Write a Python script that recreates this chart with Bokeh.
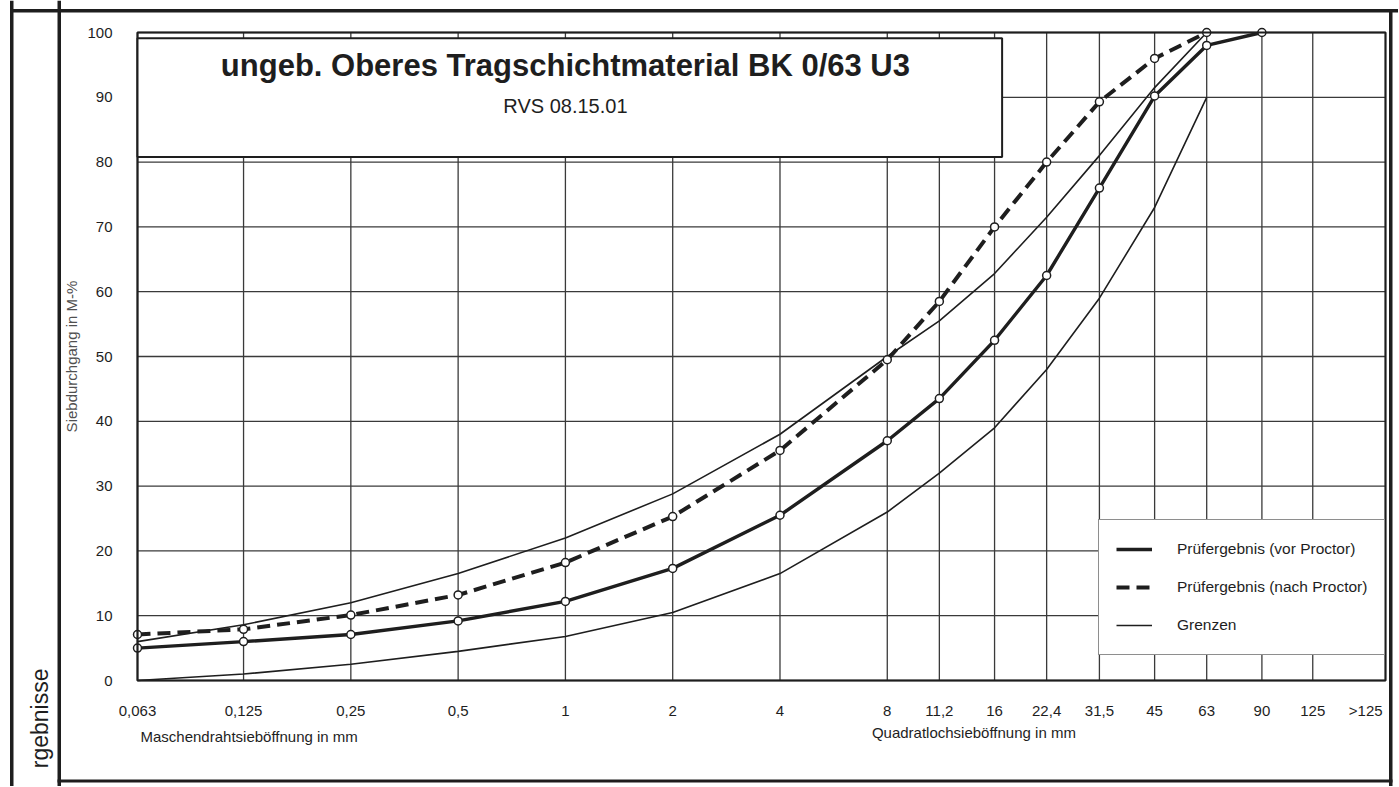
from math import pi, log2
from bokeh.plotting import figure
from bokeh.models import Range1d, FixedTicker, Legend, LegendItem, Label, BoxAnnotation
from bokeh.embed import file_html
from bokeh.resources import INLINE

# ---------------- data ----------------
sieve_sizes = [0.063, 0.125, 0.25, 0.5, 1, 2, 4, 8, 11.2, 16, 22.4, 31.5, 45, 63, 90, 125]
sieve_labels = ["0,063", "0,125", "0,25", "0,5", "1", "2", "4", "8", "11,2", "16",
                "22,4", "31,5", "45", "63", "90", "125"]
oversize_tick = 176
oversize_label = ">125"
y_ticks = [0, 10, 20, 30, 40, 50, 60, 70, 80, 90, 100]

vor_sizes = [0.063, 0.125, 0.25, 0.5, 1, 2, 4, 8, 11.2, 16, 22.4, 31.5, 45, 63, 90]
vor_values = [5.0, 6.0, 7.1, 9.2, 12.2, 17.3, 25.5, 37.0, 43.5, 52.5, 62.5, 76.0, 90.2, 98.0, 100.0]

nach_sizes = [0.063, 0.125, 0.25, 0.5, 1, 2, 4, 8, 11.2, 16, 22.4, 31.5, 45, 63]
nach_values = [7.1, 7.9, 10.1, 13.2, 18.2, 25.3, 35.5, 49.5, 58.5, 70.0, 80.0, 89.3, 96.0, 100.0]

limit_sizes = [0.063, 0.125, 0.25, 0.5, 1, 2, 4, 8, 11.2, 16, 22.4, 31.5, 45, 63]
upper_limit = [6.0, 8.6, 12.0, 16.5, 22.0, 28.8, 38.0, 50.0, 55.5, 62.8, 71.5, 81.0, 91.5, 100.0]
lower_limit = [0.0, 1.0, 2.5, 4.5, 6.8, 10.5, 16.5, 26.0, 32.0, 39.0, 48.0, 59.0, 73.0, 90.0]

title_text = "ungeb. Oberes Tragschichtmaterial BK 0/63 U3"
subtitle_text = "RVS 08.15.01"
legend_labels = ["Prüfergebnis (vor Proctor)", "Prüfergebnis (nach Proctor)", "Grenzen"]
x_caption_left = "Maschendrahtsieböffnung in mm"
x_caption_right = "Quadratlochsieböffnung in mm"
y_caption = "Siebdurchgang in M-%"
side_caption = "rgebnisse"

# ---------------- layout / style ----------------
INK = "#1e1e1e"
GRID = "#3a3a3a"
FONT = "Liberation Sans"
W, H = 1398, 786

X_MIN, X_MAX = 0.063, 200.0      # plotted sieve range
Y_MIN, Y_MAX = 0.0, 100.0
PX_L, PX_R = 137.0, 1385.0       # canvas pixels of the diagram area
PX_T, PX_B = 32.0, 680.0
SX = (PX_R - PX_L) / log2(X_MAX / X_MIN)   # pixels per doubling
SY = (PX_B - PX_T) / (Y_MAX - Y_MIN)       # pixels per percent


def px_x(px):
    return X_MIN * 2 ** ((px - PX_L) / SX)


def px_y(py):
    return Y_MIN + (PX_B - py) / SY


p = figure(width=W, height=H, title=None, x_axis_type="log",
           x_range=Range1d(px_x(0), px_x(W)), y_range=Range1d(px_y(H), px_y(0)),
           output_backend="svg", toolbar_location=None,
           min_border=0, background_fill_color="white", border_fill_color="white",
           outline_line_color=None)
p.xgrid.visible = False
p.ygrid.visible = False

# grid lines of the diagram
p.segment(x0=sieve_sizes, y0=[y_ticks[0]] * len(sieve_sizes),
          x1=sieve_sizes, y1=[y_ticks[-1]] * len(sieve_sizes),
          line_color=GRID, line_width=1.3)
p.segment(x0=[X_MIN] * len(y_ticks), y0=y_ticks, x1=[X_MAX] * len(y_ticks), y1=y_ticks,
          line_color=GRID, line_width=1.3)

# axes placed at the diagram edges
xa = p.xaxis[0]
xa.fixed_location = Y_MIN
xa.bounds = (X_MIN, X_MAX)
xa.ticker = FixedTicker(ticks=sieve_sizes + [oversize_tick])
overrides = {s: l for s, l in zip(sieve_sizes, sieve_labels)}
overrides[oversize_tick] = oversize_label
xa.major_label_overrides = overrides
ya = p.yaxis[0]
ya.fixed_location = X_MIN
ya.bounds = (Y_MIN, Y_MAX)
ya.ticker = FixedTicker(ticks=y_ticks)
for ax in (xa, ya):
    ax.axis_line_color = None
    ax.major_tick_line_color = None
    ax.minor_tick_line_color = None
    ax.major_tick_out = 0
    ax.major_tick_in = 0
    ax.major_label_text_font = FONT
    ax.major_label_text_font_size = "15px"
    ax.major_label_text_color = INK
xa.major_label_standoff = 21
ya.major_label_standoff = 25
ya.axis_label = y_caption
ya.axis_label_text_font = FONT
ya.axis_label_text_font_size = "15px"
ya.axis_label_text_font_style = "normal"
ya.axis_label_text_color = "#505050"
ya.axis_label_standoff = 4

# data curves
up_line = p.line(limit_sizes, upper_limit, line_color=INK, line_width=1.6)
p.line(limit_sizes, lower_limit, line_color=INK, line_width=1.6)
vor_line = p.line(vor_sizes, vor_values, line_color=INK, line_width=3.4)
nach_line = p.line(nach_sizes, nach_values, line_color=INK, line_width=4, line_dash="13 7")
p.scatter(vor_sizes, vor_values, marker="circle", size=8, fill_color="white",
          line_color=INK, line_width=1.5)
p.scatter(nach_sizes, nach_values, marker="circle", size=8, fill_color="white",
          line_color=INK, line_width=1.5)

# diagram outline
p.add_layout(BoxAnnotation(left=X_MIN, right=X_MAX, bottom=Y_MIN, top=Y_MAX,
                           fill_alpha=0.0, line_color=INK, line_alpha=1.0, line_width=2.2))

# title box
p.add_layout(BoxAnnotation(left=X_MIN, right=16.8, bottom=80.8, top=99.1,
                           fill_color="white", fill_alpha=1.0,
                           line_color=INK, line_alpha=1.0, line_width=2))
p.add_layout(Label(x=1, y=94.9, text=title_text, text_align="center", text_baseline="middle",
                   text_font=FONT, text_font_size="31px", text_font_style="bold", text_color=INK))
p.add_layout(Label(x=1, y=88.6, text=subtitle_text, text_align="center", text_baseline="middle",
                   text_font=FONT, text_font_size="20px", text_color=INK))

# x axis captions
p.add_layout(Label(x=X_MIN, y=-8.6, x_offset=3, text=x_caption_left, text_align="left",
                   text_baseline="middle", text_font=FONT, text_font_size="15px",
                   text_color=INK))
p.add_layout(Label(x=14, y=-8.1, text=x_caption_right, text_align="center",
                   text_baseline="middle", text_font=FONT, text_font_size="15px",
                   text_color=INK))

# legend
legend = Legend(items=[LegendItem(label=legend_labels[0], renderers=[vor_line]),
                       LegendItem(label=legend_labels[1], renderers=[nach_line]),
                       LegendItem(label=legend_labels[2], renderers=[up_line])],
                location=(1098, H - 655), margin=0, padding=17, spacing=14,
                glyph_width=36, glyph_height=24, label_height=24, label_width=190,
                label_standoff=25,
                label_text_font=FONT, label_text_font_size="15.5px", label_text_color=INK,
                border_line_color=INK, border_line_width=1.8,
                background_fill_color="white", background_fill_alpha=1.0)
p.add_layout(legend)


# page frame lines
def frame_box(l, r, t, b):
    p.add_layout(BoxAnnotation(left=px_x(l), right=px_x(r), top=px_y(t), bottom=px_y(b),
                               fill_color=INK, fill_alpha=1.0, line_color=None,
                               level="overlay"))


frame_box(9.5, 13, 0, H)          # outer left border
frame_box(57, 60.5, 0, H)         # left column divider
frame_box(9.5, W, 8.5, 12)        # top border
frame_box(1388.5, 1392, 8.5, H)   # right border
frame_box(57, 1392, 779, 782)     # bottom border

# side caption in the left column
p.add_layout(Label(x=px_x(39), y=px_y(668), angle=pi / 2, text=side_caption,
                   text_align="right", text_baseline="middle",
                   text_font=FONT, text_font_size="23px", text_color=INK))

open("out.html", "w").write(file_html(p, INLINE))
